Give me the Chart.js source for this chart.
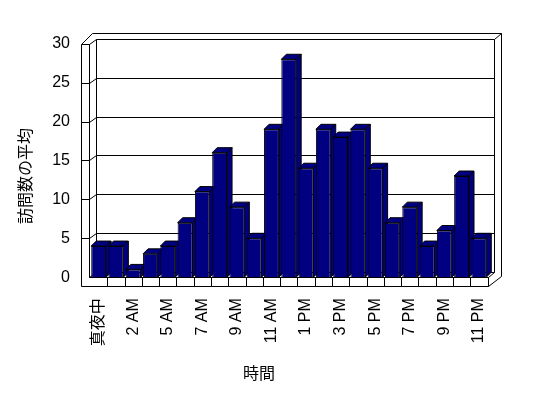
<!DOCTYPE html>
<html>
<head>
<meta charset="utf-8">
<script src="https://cdn.jsdelivr.net/npm/chart.js@4.4.1/dist/chart.umd.min.js"></script>
<style>
  html, body { margin: 0; padding: 0; background: #fff; }
  #chart { display: block; }
</style>
</head>
<body>
<canvas id="chart" width="548" height="398"></canvas>
<script>
// one bar per hour (the 3-4 AM slot only appears once in the source)
const hours = ["真夜中", "1 AM", "2 AM", "3 AM", "5 AM", "6 AM", "7 AM", "8 AM",
  "9 AM", "10 AM", "11 AM", "正午", "1 PM", "2 PM", "3 PM", "4 PM", "5 PM",
  "6 PM", "7 PM", "8 PM", "9 PM", "10 PM", "11 PM"];
const visits = [4, 4, 1, 3, 4, 7, 11, 16, 9, 5, 19, 28, 14, 19, 18, 19, 14, 7, 9, 4, 6, 13, 5];
const yTicks = [0, 5, 10, 15, 20, 25, 30];

const xTitle = "時間";
const yTitle = "訪問数の平均";

const FONT = "'Liberation Sans', 'Noto Sans CJK JP', Arial, sans-serif";
const NAVY = "#000080";

// depth of the bars and of the walls, in pixels
const BAR_DX = 5, BAR_DY = -5;
const WALL_DX = 7, WALL_DY = -5;
const OUT_DX = 12, OUT_DY = -11;

function line(ctx, x1, y1, x2, y2) {
  ctx.beginPath();
  ctx.moveTo(Math.round(x1) + 0.5, Math.round(y1) + 0.5);
  ctx.lineTo(Math.round(x2) + 0.5, Math.round(y2) + 0.5);
  ctx.stroke();
}

const box3d = {
  id: "box3d",
  beforeDatasetsDraw(chart) {
    const { ctx, chartArea: a, scales } = chart;
    const xs = scales.x, ys = scales.y;
    const yTop = ys.getPixelForValue(yTicks[yTicks.length - 1]);
    const y0 = ys.getPixelForValue(0);
    const wi = a.left - 1;          // inner face of the left wall
    const wo = wi - 8;              // outer face of the left wall
    const bl = wi + WALL_DX;        // back wall, left edge
    const R = a.right;
    const br = R + 6;               // back wall, right edge
    const fb = y0 + 8.5;            // floor, bottom edge

    ctx.save();
    ctx.strokeStyle = "#000";
    ctx.lineWidth = 1;

    // back wall gridlines + left wall
    yTicks.forEach(v => {
      const py = ys.getPixelForValue(v);
      line(ctx, bl, py + WALL_DY, br, py + WALL_DY);
      line(ctx, wi, py, bl, py + WALL_DY);
      if (v > 0) line(ctx, wo, py, wi, py);
    });
    line(ctx, bl, yTop + WALL_DY, bl, y0 + WALL_DY);
    line(ctx, br, yTop + WALL_DY, br, y0 + WALL_DY);
    line(ctx, wo, yTop, wo, fb);
    line(ctx, wi, yTop, wi, y0);

    // outer rim of the box
    line(ctx, wo, yTop, wo + OUT_DX - 1, yTop + OUT_DY);
    line(ctx, wo + OUT_DX - 1, yTop + OUT_DY, R + OUT_DX + 1, yTop + OUT_DY);
    line(ctx, br, yTop + WALL_DY, R + OUT_DX + 1, yTop + OUT_DY);
    line(ctx, R + OUT_DX + 1, yTop + OUT_DY, R + OUT_DX + 1, fb + OUT_DY + 1);
    line(ctx, R + OUT_DX + 1, fb + OUT_DY + 1, R, fb);

    // floor slab
    line(ctx, wi, y0, R, y0);
    line(ctx, wo, fb, R, fb);
    line(ctx, R, y0, R, fb);
    line(ctx, R, y0, br, y0 + WALL_DY);
    for (let i = 1; i < hours.length; i++) {
      const bx = (xs.getPixelForValue(i - 1) + xs.getPixelForValue(i)) / 2;
      line(ctx, bx, y0, bx, fb);
    }

    // side and top faces of the bars
    const meta = chart.getDatasetMeta(0);
    meta.data.forEach(bar => {
      const { x, y, base, width } = bar.getProps(["x", "y", "base", "width"], true);
      const l = x - width / 2, r = x + width / 2;
      ctx.fillStyle = NAVY;
      ctx.beginPath();
      ctx.moveTo(r, y);
      ctx.lineTo(r + BAR_DX, y + BAR_DY);
      ctx.lineTo(r + BAR_DX, base + BAR_DY);
      ctx.lineTo(r, base);
      ctx.closePath();
      ctx.fill();
      ctx.stroke();
      ctx.beginPath();
      ctx.moveTo(l, y);
      ctx.lineTo(l + BAR_DX, y + BAR_DY);
      ctx.lineTo(r + BAR_DX, y + BAR_DY);
      ctx.lineTo(r, y);
      ctx.closePath();
      ctx.fill();
      ctx.stroke();
    });
    ctx.restore();
  },
  afterDraw(chart) {
    const { ctx } = chart;
    ctx.save();
    ctx.fillStyle = "#000";
    ctx.font = "16px " + FONT;
    ctx.textAlign = "center";
    ctx.textBaseline = "middle";
    ctx.fillText(xTitle, 259, 375);
    ctx.translate(27, 176);
    ctx.rotate(-Math.PI / 2);
    ctx.fillText(yTitle, 0, 0);
    ctx.restore();
  }
};

Chart.defaults.font.family = FONT;
Chart.defaults.font.size = 16;
Chart.defaults.color = "#000";

new Chart(document.getElementById("chart"), {
  type: "bar",
  data: {
    labels: hours,
    datasets: [{
      data: visits,
      backgroundColor: NAVY,
      borderColor: "#000",
      borderWidth: 1,
      barPercentage: 0.86,
      categoryPercentage: 1
    }]
  },
  options: {
    responsive: false,
    animation: false,
    devicePixelRatio: 1,
    layout: { padding: { left: 0, top: 43.7, right: 60.5, bottom: 0 } },
    plugins: { legend: { display: false }, tooltip: { enabled: false } },
    scales: {
      x: {
        grid: { display: false, drawTicks: false },
        border: { display: false },
        ticks: {
          autoSkip: false,
          minRotation: 90,
          maxRotation: 90,
          padding: 21,
          callback: (v, i) => (i % 2 === 0 ? hours[i] : "")
        },
        afterFit: s => { s.height = 398 - 277.2; }
      },
      y: {
        min: 0,
        max: 30,
        grid: { display: false, drawTicks: false },
        border: { display: false },
        ticks: { stepSize: 5, padding: 20 },
        afterFit: s => { s.width = 90; }
      }
    }
  },
  plugins: [box3d]
});
</script>
</body>
</html>
